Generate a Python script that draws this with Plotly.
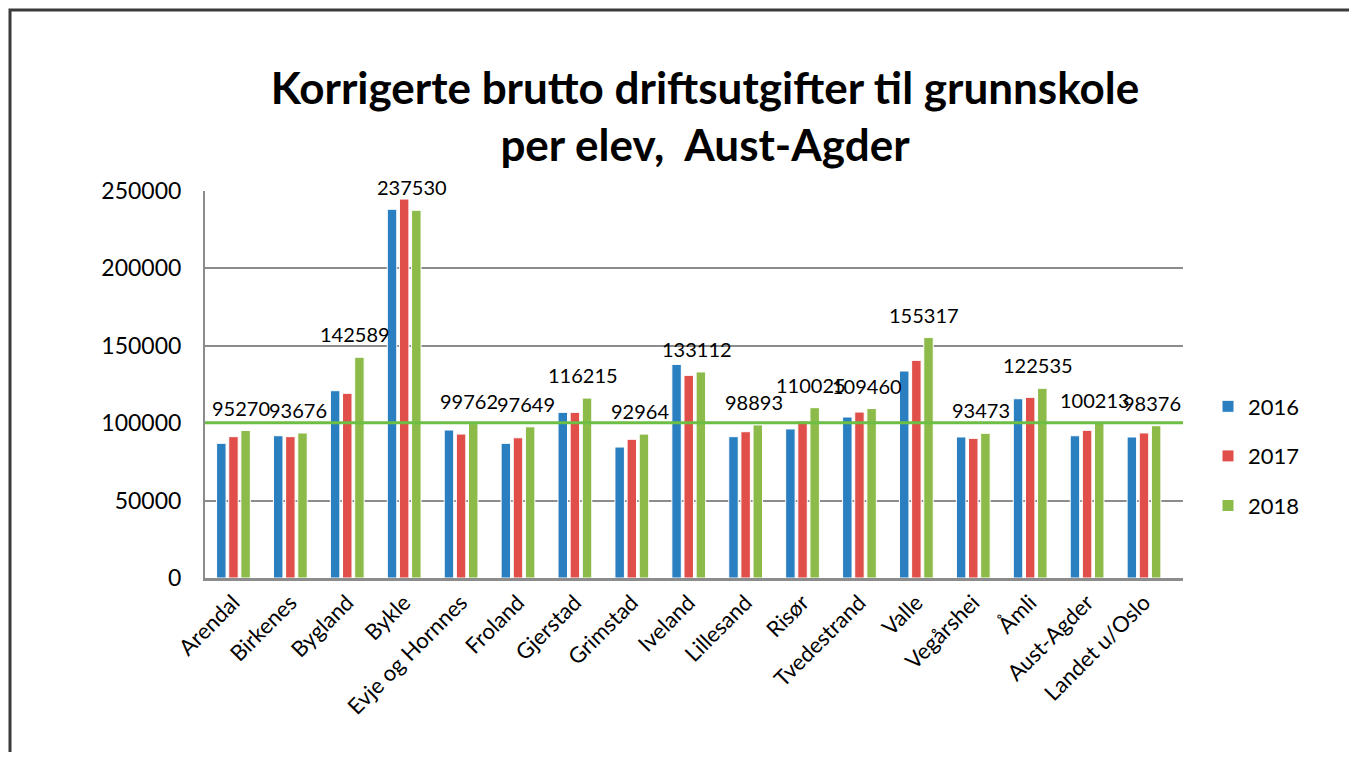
import plotly.graph_objects as go

categories = ["Arendal", "Birkenes", "Bygland", "Bykle", "Evje og Hornnes", "Froland",
              "Gjerstad", "Grimstad", "Iveland", "Lillesand", "Risør", "Tvedestrand",
              "Valle", "Vegårshei", "Åmli", "Aust-Agder", "Landet u/Oslo"]
v2016 = [87000, 91900, 121000, 238200, 95600, 87000, 107000, 84600, 138000, 91300,
         96300, 104000, 133700, 91100, 115800, 91900, 91100]
v2017 = [91300, 91300, 119300, 244800, 93000, 90600, 107000, 89600, 130900, 94500,
         101400, 107200, 140600, 90200, 116700, 95400, 93700]
v2018 = [95270, 93676, 142589, 237530, 99762, 97649, 116215, 92964, 133112, 98893,
         110025, 109460, 155317, 93473, 122535, 100213, 98376]
reference_value = 100213
years = ["2016", "2017", "2018"]
colors = ["#2A7FC1", "#E04F4A", "#8DBB4A"]

FONT = "Lato, Calibri, Carlito, sans-serif"

# the page body adds an 8px margin; lay out in reference pixel coordinates minus that
OFF = 8
W, H = 1357 - 2 * OFF, 760 - 2 * OFF
PL, PR, PT, PB = 205, 1183, 191, 578          # plot area in reference pixels
L, T = PL - OFF, PT - OFF
PW, PH = PR - PL, PB - PT
R, B = W - L - PW, H - T - PH


def px(p):
    return (p - PL) / PW


def py(p):
    return (PB - p) / PH


fig = go.Figure()
for i, (yr, vals) in enumerate(zip(years, [v2016, v2017, v2018])):
    fig.add_trace(go.Bar(
        x=categories, y=vals, name=yr,
        marker=dict(color=colors[i], line=dict(color="white", width=1)),
        legendgroup=yr,
    ))

# data labels on 2018 series
for c, v in zip(categories, v2018):
    fig.add_annotation(x=c, y=v, text=str(v), showarrow=False,
                       xshift=8, yshift=23, yanchor="middle",
                       font=dict(family=FONT, size=20, color="#000"))

# horizontal reference line
fig.add_shape(type="line", xref="paper", yref="y", x0=0, x1=1,
              y0=reference_value, y1=reference_value,
              line=dict(color="#6DBE45", width=3), layer="above")

# outer frame
fig.add_shape(type="rect", xref="paper", yref="paper",
              x0=px(10), x1=px(1380), y0=py(790), y1=py(10),
              line=dict(color="#3a3a3a", width=3), layer="below")

fig.update_layout(
    width=W, height=H,
    margin=dict(l=L, r=R, t=T, b=B, autoexpand=False),
    paper_bgcolor="white", plot_bgcolor="white",
    barmode="group", bargap=0.36, bargroupgap=0.22,
    title=dict(
        text="Korrigerte brutto driftsutgifter til grunnskole<br>per elev,  Aust-Agder",
        x=(705 - OFF) / W, xanchor="center",
        y=1 - (104 - OFF) / H, yanchor="middle", yref="container",
        font=dict(family=FONT, size=44, color="#000", weight="bold"),
    ),
    font=dict(family=FONT, color="#000"),
    legend=dict(x=px(1208), xanchor="left", y=py(456), yanchor="middle",
                font=dict(family=FONT, size=22, color="#000"),
                tracegroupgap=18, itemwidth=30),
    showlegend=True,
)
fig.update_yaxes(range=[0, 250000], tickvals=[0, 50000, 100000, 150000, 200000, 250000],
                 ticktext=["0", "50000", "100000", "150000", "200000", "250000"],
                 showgrid=True, gridcolor="#8c8c8c", gridwidth=2,
                 showline=True, linecolor="#8c8c8c", linewidth=2,
                 zeroline=False, ticks="", ticklabelstandoff=17,
                 tickfont=dict(family=FONT, size=23, color="#000"))
fig.update_xaxes(showline=True, linecolor="#8c8c8c", linewidth=3, ticks="",
                 tickangle=-45, tickfont=dict(family=FONT, size=22, color="#000"))

fig.write_html("out.html")
